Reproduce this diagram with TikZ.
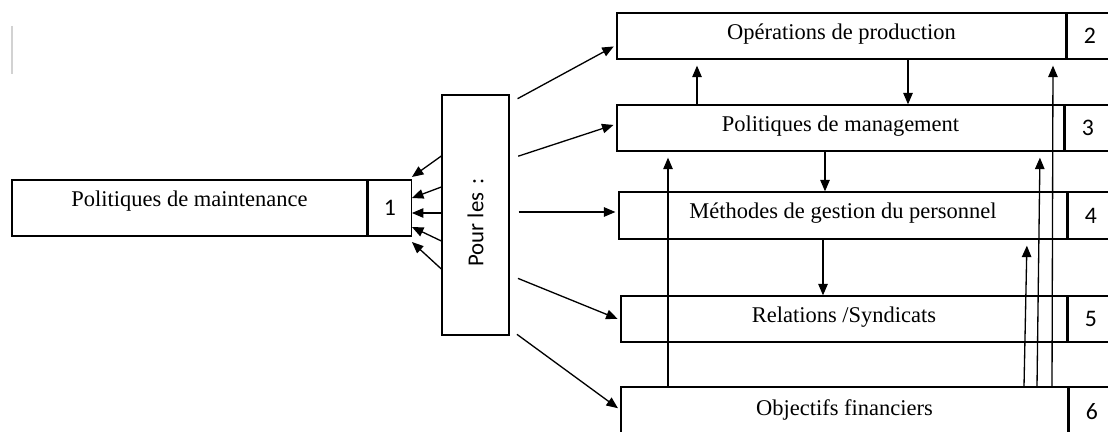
\documentclass[tikz,border=0pt]{standalone}
\usepackage{fontspec}
\setmainfont{Liberation Serif}
\newfontfamily\cellfont{Carlito}
\usetikzlibrary{arrows.meta,positioning}
\tikzset{
  policy/.style={draw,line width=0.75pt,inner sep=0pt,text height=0.3cm,
    text depth=0.16cm,minimum height=0.92cm,font=\fontsize{12.8}{15}\selectfont},
  numcell/.style={draw,line width=0.75pt,inner sep=0pt,minimum width=0.9cm,
    font=\cellfont\fontsize{13.5}{15}\selectfont},
  arrow/.style={-{Triangle[length=0.23cm,width=0.19cm]},line width=0.75pt},
  fanout/.style={arrow,shorten <=0.18cm,shorten >=0.06cm},
  feedup/.style={arrow,shorten >=0.12cm}
}

\begin{document}
\begin{tikzpicture}[x=0.02cm,y=-0.02cm]
  \useasboundingbox (0,0) rectangle (1108,432);
  \clip (0,0) rectangle (1108,432);
  \draw[gray!35,line width=1.2pt] (12,26) -- (12,74);

  % left side
  \node[policy,minimum width=7.1cm,minimum height=1.12cm,text depth=0.36cm]
    (maint) at (189.5,208) {Politiques de maintenance};
  \node[numcell,minimum width=0.86cm,minimum height=1.12cm,right=0pt of maint]
    (c1) {1};
  \node[draw,line width=0.75pt,inner sep=0pt,minimum width=1.34cm,minimum height=4.8cm,
    font=\cellfont\fontsize{13}{15}\selectfont]
    (pour) at (475.5,215) {\rotatebox{90}{Pour les\hspace{0.12em} :\hspace{0.3cm}}};

  % right side
  \node[policy,minimum width=8.98cm] (prod) at (841.5,36) {Opérations de production};
  \node[numcell,minimum height=0.92cm,right=0pt of prod] (c2) {2};
  \node[policy,minimum width=8.94cm] (mgmt) at (840.5,128) {Politiques de management};
  \node[numcell,minimum height=0.92cm,right=0pt of mgmt] (c3) {3};
  \node[policy,minimum width=8.96cm,minimum height=0.94cm] (pers) at (843,215.5)
    {Méthodes de gestion du personnel};
  \node[numcell,minimum height=0.94cm,right=0pt of pers] (c4) {4};
  \node[policy,minimum width=8.92cm] (synd) at (844,319) {Relations /Syndicats};
  \node[numcell,minimum height=0.92cm,right=0pt of synd] (c5) {5};
  \node[policy,minimum width=8.94cm,minimum height=1.0cm] (fin) at (844.5,412)
    {Objectifs financiers};
  \node[numcell,minimum height=1.0cm,right=0pt of fin] (c6) {6};

  % into maintenance
  \draw[arrow] (pour.west |- 0,156) -- (c1.east |- 0,177);
  \draw[arrow] (pour.west |- 0,187) -- (c1.east |- 0,198);
  \draw[arrow] (pour.west |- 0,213) -- (c1.east |- 0,213);
  \draw[arrow] (pour.west |- 0,241) -- (c1.east |- 0,227);
  \draw[arrow] (pour.west |- 0,269) -- (c1.east |- 0,242);

  % out to the policies
  \draw[fanout] (pour.east |- 0,103) -- (prod.west |- 0,45);
  \draw[fanout] (pour.east |- 0,159) -- (mgmt.west |- 0,124);
  \draw[fanout] (pour.east |- 0,212) -- (pers.west |- 0,212);
  \draw[fanout] (pour.east |- 0,275) -- (synd.west |- 0,320);
  \draw[fanout] (pour.east |- 0,329) -- (fin.west |- 0,410);

  % between the policies
  \draw[feedup] (mgmt.north -| 697,0) -- (prod.south -| 697,0);
  \draw[arrow] (prod.south -| 908,0) -- (mgmt.north -| 908,0);
  \draw[arrow] (mgmt.south -| 825,0) -- (pers.north -| 825,0);
  \draw[arrow] (pers.south -| 823,0) -- (synd.north -| 823,0);
  \draw[feedup] (fin.north -| 668,0) -- (mgmt.south -| 668,0);
  \draw[feedup] (fin.north -| 1024,0) -- (pers.south -| 1027,0);
  \draw[feedup] (fin.north -| 1037,0) -- (mgmt.south -| 1040,0);
  \draw[feedup] (fin.north -| 1052,0) -- (prod.south -| 1053,0);
\end{tikzpicture}
\end{document}
